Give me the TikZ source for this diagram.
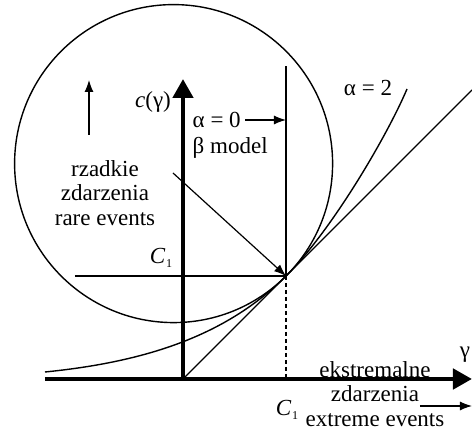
\documentclass[tikz,border=0pt]{standalone}
\usepackage{fontspec}
\setmainfont{Liberation Serif}
\usetikzlibrary{positioning,arrows.meta}

\newcommand{\cone}{\textit{C}\kern0.5pt\raisebox{-0.4ex}{\fontsize{12}{12}\selectfont 1}}

\begin{document}
\begin{tikzpicture}[x=1pt,y=1pt,line width=1.4pt,
    axis/.style={line width=4.6pt,-{Triangle[length=19pt,width=20pt]}},
    pointer/.style={line width=1.2pt,-{Latex[length=12pt,width=9pt]}},
    lbl/.style={font=\fontsize{23}{24.5}\selectfont,inner sep=0pt,align=center}]
    \useasboundingbox (-183,-51) rectangle (289,379);
    \coordinate (O) at (0,0);
    \coordinate (T) at (103,103);
    % circle touching the tangent line at T
    \draw (-9.4,215.4) circle (159);
    \draw (O) -- (289,289);
    \draw (-108,103) -- (T);
    \draw (T) -- (103,313);
    \draw[dash pattern=on 4pt off 3pt] (T) -- (T |- O);
    % alpha = 2
    \draw (-138,7) .. controls (-38,17) and (43,43) .. (T)
        .. controls (150,150) and (205,245) .. (224,290);
    % axes
    \draw[axis] (-138,0) -- (289,0);
    \draw[axis] (O) -- (0,300);
    \node[lbl] (cg) at (-30,277) {\textit{c}(γ)};
    \node[lbl] (gam) at (282,24) {γ};
    \node[lbl,anchor=west] (a0) at (9,259) {α = 0};
    \node[lbl,anchor=west] (beta) at (9,231) {β model};
    \draw[pointer] ([xshift=4pt]a0.east) -- (a0.east -| T);
    \node[lbl] (a2) at (185,291) {α = 2};
    \node[lbl] (rare) at (-78,186) {rzadkie\\zdarzenia\\rare events};
    \coordinate (up0) at (-94,244);
    \draw[pointer] (up0) -- (-94,299);
    \coordinate (r0) at (-10,206);
    \draw[pointer] (r0) -- (T);
    \node[lbl] (c1a) at (-22,121) {\cone};
    \node[lbl] (ext) at (192,-15) {ekstremalne\\zdarzenia\\extreme events};
    \node[lbl] (c1b) at (104,-31) {\cone};
    \coordinate (e0) at (237,-27);
    \draw[pointer] (e0) -- (289,-27);
\end{tikzpicture}
\end{document}
